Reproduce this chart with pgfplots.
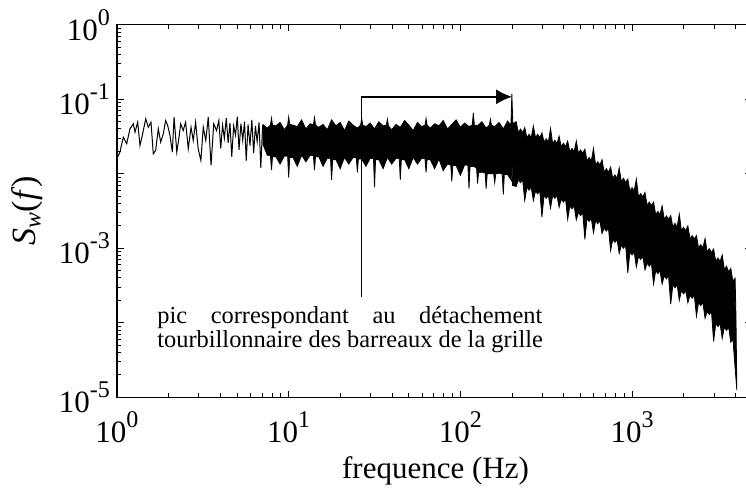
\documentclass[border=0pt]{standalone}
\usepackage{fontspec}
\setmainfont{Liberation Serif}
\usepackage{pgfplots}
\pgfplotsset{compat=1.18}
\usetikzlibrary{arrows.meta}
% 10^n tick label in the text font
\newcommand{\pw}[1]{10\raisebox{0.48em}{\fontsize{12}{12}\selectfont #1}}

\begin{document}
\begin{tikzpicture}
\path[use as bounding box] (-58.5pt,-47.35pt) rectangle (314.5pt,198.65pt);
\begin{axis}[
  at={(0,0)}, anchor=south west,
  scale only axis, width=317.55pt, height=186.25pt,
  xmode=log, ymode=log,
  xmin=1, xmax=5000, ymin=1e-5, ymax=1,
  clip=false,
  axis line style={line width=0.6pt},
  every tick/.style={black, line width=0.5pt},
  major tick length=3.3pt, minor tick length=2pt,
  xtick={1,10,100,1000},
  xticklabels={\pw{0},\pw{1},\pw{2},\pw{3}},
  minor xtick={2,3,4,5,6,7,8,9,20,30,40,50,60,70,80,90,200,300,400,500,600,700,800,900,2000,3000,4000,5000},
  ytick={1e-5,1e-4,1e-3,1e-2,1e-1,1},
  yticklabels={\pw{-5},,\pw{-3},,\pw{-1},\pw{0}},
  minor ytick={2e-5,3e-5,4e-5,5e-5,6e-5,7e-5,8e-5,9e-5,
               2e-4,3e-4,4e-4,5e-4,6e-4,7e-4,8e-4,9e-4,
               2e-3,3e-3,4e-3,5e-3,6e-3,7e-3,8e-3,9e-3,
               2e-2,3e-2,4e-2,5e-2,6e-2,7e-2,8e-2,9e-2,
               0.2,0.3,0.4,0.5,0.6,0.7,0.8,0.9},
  tick label style={font=\fontsize{15.5}{15.5}\selectfont},
  xticklabel style={yshift=-3.5pt},
  xlabel={frequence (Hz)},
  xlabel style={font=\fontsize{15.5}{15.5}\selectfont, at={(axis description cs:0.5015,-0.198)}, anchor=center},
  ylabel={\textit{S}\textsubscript{\textit{w}}(\textit{f})},
  ylabel style={font=\fontsize{17}{17}\selectfont, at={(axis description cs:-0.1417,0.5)}, anchor=center},
]
% low frequency part of the spectrum
\addplot[black, line width=0.5pt, mark=none] coordinates {
(1.00,0.0165) (1.02,0.0176) (1.04,0.0195) (1.088,0.031) (1.139,0.0253) (1.19,0.0402)
(1.245,0.0469) (1.273,0.0362) (1.32,0.0493) (1.361,0.024) (1.404,0.0327) (1.47,0.0547)
(1.522,0.0422) (1.578,0.0493) (1.627,0.0185) (1.68,0.0206) (1.74,0.0402) (1.797,0.0266)
(1.86,0.0344) (1.92,0.0519) (1.974,0.0445) (2.035,0.0327) (2.10,0.0195) (2.15,0.0575)
(2.23,0.0195) (2.297,0.031) (2.35,0.0469) (2.43,0.0381) (2.51,0.0493) (2.60,0.0217)
(2.70,0.0422) (2.78,0.028) (2.87,0.0493) (2.97,0.0217) (3.08,0.0151) (3.18,0.0422)
(3.29,0.028) (3.40,0.0575) (3.53,0.013) (3.66,0.0469) (3.80,0.038) (3.92,0.052)
(4.02,0.022) (4.12,0.045) (4.22,0.030) (4.33,0.056) (4.44,0.026) (4.55,0.048)
(4.66,0.017) (4.78,0.044) (4.90,0.033) (5.02,0.058) (5.14,0.021) (5.27,0.047)
(5.40,0.028) (5.53,0.050) (5.66,0.015) (5.80,0.046) (5.95,0.024) (6.10,0.053)
(6.25,0.019) (6.40,0.044) (6.55,0.027) (6.72,0.049) (6.88,0.012) (7.05,0.045) (7.2,0.03)
};
% dense part: upper envelope then lower envelope
\addplot[black, fill=black, line width=0.4pt, mark=none] coordinates {
(7.079,0.046) (7.499,0.041) (7.83,0.045) (7.943,0.056) (8.05,0.045) (8.414,0.044)
(8.913,0.049) (9.441,0.039) (9.86,0.045) (10.00,0.058) (10.14,0.046) (10.59,0.045)
(11.22,0.043) (11.89,0.053) (12.59,0.040) (13.34,0.047) (13.93,0.045) (14.13,0.057)
(14.33,0.045) (14.96,0.042) (15.85,0.046) (16.79,0.039) (17.78,0.053) (18.84,0.044)
(19.95,0.049) (21.13,0.038) (22.39,0.051) (23.71,0.045) (25.12,0.041) (26.24,0.045)
(26.61,0.056) (26.98,0.045) (28.18,0.043) (29.85,0.048) (31.62,0.040) (33.50,0.050)
(35.48,0.044) (37.06,0.045) (37.58,0.054) (38.11,0.044) (39.81,0.039) (42.17,0.046)
(44.67,0.042) (47.32,0.052) (50.12,0.045) (53.09,0.038) (56.23,0.049) (59.57,0.043)
(62.22,0.045) (63.10,0.055) (63.98,0.045) (66.83,0.041) (70.79,0.047) (74.99,0.044)
(79.43,0.052) (84.14,0.040) (89.13,0.046) (94.41,0.053) (100.0,0.042) (105.9,0.048)
(112.2,0.043) (117.3,0.045) (118.9,0.066) (120.6,0.045) (125.9,0.044) (133.4,0.050)
(141.3,0.041) (147.5,0.045) (149.6,0.054) (151.7,0.045) (158.5,0.043) (167.9,0.049)
(177.8,0.040) (188.4,0.051) (197.0,0.045) (199.5,0.118) (202.0,0.047)
(211.3,0.0501) (217.5,0.0358) (223.9,0.0398) (230.4,0.0358) (237.1,0.0417) (244.0,0.0305)
(251.2,0.0339) (258.5,0.0305) (266.1,0.0437) (273.9,0.0305) (281.8,0.0339) (290.0,0.0305)
(298.5,0.0355) (307.2,0.0266) (316.2,0.0295) (325.4,0.0266) (335.0,0.0407) (344.8,0.0254)
(354.8,0.0282) (365.2,0.0254) (375.8,0.0320) (386.8,0.0231) (398.1,0.0257) (409.7,0.0231)
(421.7,0.0275) (434.0,0.0197) (446.7,0.0219) (459.7,0.0197) (473.2,0.0275) (487.0,0.0188)
(501.2,0.0209) (515.8,0.0188) (530.9,0.0214) (546.4,0.0149) (562.3,0.0166) (578.7,0.0149)
(595.7,0.0219) (613.1,0.0131) (631.0,0.0145) (649.4,0.0131) (668.3,0.0155) (687.8,0.0105)
(707.9,0.0117) (728.6,0.0105) (749.9,0.0123) (771.8,0.00869) (794.3,0.00966) (817.5,0.00869)
(841.4,0.0120) (866.0,0.00784) (891.3,0.00871) (917.3,0.00766) (944.1,0.00851) (971.7,0.00588)
(1000,0.00653) (1029,0.00588) (1059,0.00851) (1090,0.00489) (1122,0.00543) (1155,0.00489)
(1189,0.00562) (1224,0.00375) (1259,0.00417) (1296,0.00375) (1334,0.00417) (1373,0.00282)
(1413,0.00313) (1454,0.00282) (1496,0.00372) (1540,0.00245) (1585,0.00272) (1631,0.00245)
(1679,0.00275) (1728,0.00194) (1778,0.00216) (1830,0.00194) (1884,0.00288) (1939,0.00172)
(1995,0.00191) (2053,0.00172) (2113,0.00200) (2175,0.00133) (2239,0.00148) (2304,0.00133)
(2371,0.00148) (2440,0.00101) (2512,0.00112) (2585,0.00101) (2661,0.00135) (2739,0.000890)
(2818,0.000989) (2900,0.000879) (2985,0.000977) (3072,0.000667) (3162,0.000741) (3254,0.000667)
(3350,0.000813) (3448,0.000518) (3548,0.000575) (3652,0.000483) (3758,0.000537) (3868,0.000358)
(3981,0.000398) (4027,0.000126) (4074,0.0000126)
(3981,0.0000251) (3868,0.0000605) (3758,0.0000550) (3652,0.0000873) (3548,0.0000794)
(3448,0.0000873) (3350,0.0000617) (3254,0.0000980) (3162,0.0000891) (3072,0.0000980)
(2985,0.0000562) (2900,0.000142) (2818,0.000129) (2739,0.000142) (2661,0.000115)
(2585,0.000187) (2512,0.000170) (2440,0.000187) (2371,0.000123) (2304,0.000235)
(2239,0.000214) (2175,0.000235) (2113,0.000186) (2053,0.000270) (1995,0.000245)
(1939,0.000270) (1884,0.000200) (1830,0.000325) (1778,0.000295) (1728,0.000325)
(1679,0.000178) (1631,0.000428) (1585,0.000389) (1540,0.000428) (1496,0.000331)
(1454,0.000503) (1413,0.000457) (1373,0.000503) (1334,0.000331) (1296,0.000633)
(1259,0.000575) (1224,0.000633) (1189,0.000513) (1155,0.000779) (1122,0.000708)
(1090,0.000779) (1059,0.000562) (1029,0.000894) (1000,0.000813) (971.7,0.000894)
(944.1,0.000468) (917.3,0.00110) (891.3,0.00100) (866.0,0.00110) (841.4,0.000851)
(817.5,0.00132) (794.3,0.00120) (771.8,0.00132) (749.9,0.000933) (728.6,0.00187)
(707.9,0.00170) (687.8,0.00187) (668.3,0.00158) (649.4,0.00235) (631.0,0.00214)
(613.1,0.00235) (595.7,0.00162) (578.7,0.00252) (562.3,0.00229) (546.4,0.00252)
(530.9,0.00132) (515.8,0.00303) (501.2,0.00275) (487.0,0.00303) (473.2,0.00240)
(459.7,0.00373) (446.7,0.00339) (434.0,0.00373) (421.7,0.00245) (409.7,0.00459)
(398.1,0.00417) (386.8,0.00459) (375.8,0.00355) (365.2,0.00515) (354.8,0.00468)
(344.8,0.00515) (335.0,0.00347) (325.4,0.00515) (316.2,0.00468) (307.2,0.00515)
(298.5,0.00263) (290.0,0.00591) (281.8,0.00537) (273.9,0.00591) (266.1,0.00437)
(258.5,0.00663) (251.2,0.00603) (244.0,0.00663) (237.1,0.00437) (230.4,0.00835)
(223.9,0.00759) (217.5,0.00835) (211.3,0.00676) (201.0,0.0070) (200.0,0.021)
(199.0,0.0080) (188.4,0.00977) (180.3,0.0098) (177.8,0.00525) (175.3,0.0100)
(167.9,0.0102) (160.7,0.0100) (158.5,0.00759) (156.3,0.0100) (149.6,0.0100)
(143.3,0.0100) (141.3,0.00631) (139.3,0.0103) (133.4,0.0105) (127.7,0.0104)
(125.9,0.00741) (124.2,0.0120) (118.9,0.0126) (113.8,0.0125) (112.2,0.00631)
(110.6,0.0130) (105.9,0.0132) (100.0,0.00955) (94.41,0.0129) (90.38,0.0130)
(89.13,0.00794) (87.90,0.0132) (84.14,0.0135) (79.43,0.0110) (74.99,0.0158)
(70.79,0.0117) (66.83,0.0155) (63.98,0.0155) (63.10,0.0105) (62.22,0.0160)
(59.57,0.0162) (56.23,0.0135) (53.09,0.0166) (50.12,0.0117) (47.32,0.0155)
(45.30,0.0155) (44.67,0.00832) (44.05,0.0160) (42.17,0.0162) (39.81,0.0135)
(37.58,0.0166) (35.48,0.0117) (33.50,0.0155) (32.06,0.0155) (31.62,0.00661)
(31.18,0.0160) (29.85,0.0162) (28.18,0.0126) (26.61,0.0158) (25.47,0.0158)
(25.12,0.0105) (24.77,0.0164) (23.71,0.0166) (22.39,0.0135) (21.13,0.0166)
(19.95,0.0117) (18.84,0.0155) (18.03,0.0155) (17.78,0.00832) (17.53,0.0160)
(16.79,0.0162) (15.85,0.0126) (14.96,0.0170) (14.33,0.0170) (14.13,0.0112)
(13.93,0.0175) (13.34,0.0178) (12.59,0.0145) (11.89,0.0178) (11.22,0.0126)
(10.59,0.0166) (10.14,0.0166) (10.00,0.00891) (9.86,0.0172) (9.441,0.0174)
(8.913,0.0135) (8.414,0.0170) (8.05,0.0170) (7.943,0.0112) (7.83,0.0176)
(7.499,0.0178) (7.079,0.0250) (7.079,0.046)
};
% annotation
\draw[line width=0.8pt, -{Latex[length=8pt,width=7.5pt]}]
  (axis cs:26.6,2.22e-4) |- (axis cs:200,0.108);
\node[anchor=base west, inner sep=0pt, font=\fontsize{12.2}{12.2}\selectfont]
  at (axis cs:1.71,9.9e-5) {\hbox to 192.5pt{pic\hfill correspondant\hfill au\hfill détachement}};
\node[anchor=base west, inner sep=0pt, font=\fontsize{12.2}{12.2}\selectfont]
  at (axis cs:1.71,4.59e-5) {tourbillonnaire des barreaux de la grille};
\end{axis}
\end{tikzpicture}
\end{document}
